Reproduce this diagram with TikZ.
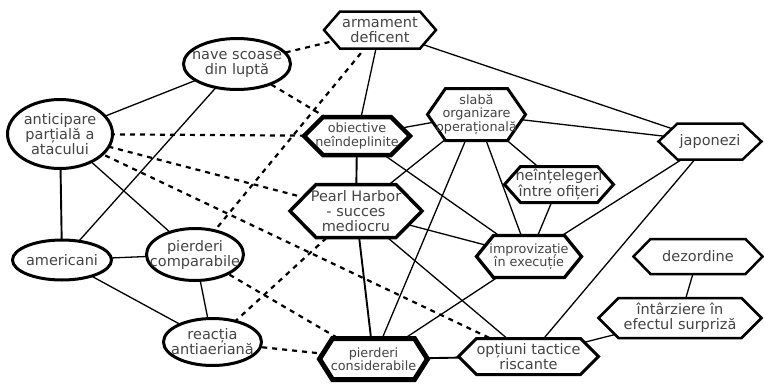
\documentclass[tikz,border=0pt]{standalone}
\usepackage{fontspec}
\setmainfont{DejaVu Sans}
\pgfdeclarelayer{background}
\pgfsetlayers{background,main}
\definecolor{txtgray}{HTML}{444444}
\tikzset{
  lbl/.style={align=center, text=txtgray, inner sep=0pt, font=\fontsize{14.5}{15}\selectfont},
  lbls/.style={align=center, text=txtgray, inner sep=0pt, font=\fontsize{12.8}{13.5}\selectfont},
  rel/.style={line width=1.3pt},
  relthick/.style={line width=1.9pt},
  neg/.style={line width=2.2pt, dash pattern=on 5pt off 5pt},
  ellborder/.style={draw=black, fill=white, line width=3pt},
}
% name, x, y, half width, half height, tip, line width, label style, text
\newcommand{\hexnode}[9]{%
  \draw[fill=white, line width=#7, line join=miter] ({#2-#4},#3) -- ({#2-#4+#6},{#3-#5}) -- ({#2+#4-#6},{#3-#5}) -- ({#2+#4},#3) -- ({#2+#4-#6},{#3+#5}) -- ({#2-#4+#6},{#3+#5}) -- cycle;
  \node[#8] (#1) at (#2,#3) {#9};}
% name, x, y, rx, ry, label style, text
\newcommand{\ellnode}[7]{%
  \draw[ellborder] (#2,#3) ellipse [x radius=#4pt, y radius=#5pt];
  \node[#6] (#1) at (#2,#3) {#7};}
\begin{document}
\begin{tikzpicture}[x=1pt, y=-1pt]
\useasboundingbox (0,0) rectangle (764,386);
% ellipses
\ellnode{nave}{237}{64}{53.5}{25.5}{lbl}{nave scoase\\din luptă}
\ellnode{ant}{60}{134}{52.5}{34.5}{lbl}{anticipare\\parțială a\\atacului}
\ellnode{ame}{62}{260}{49.5}{20}{lbl}{americani}
\ellnode{pcomp}{195}{254.5}{48.5}{26}{lbl}{pierderi\\comparabile}
\ellnode{reac}{212.5}{342}{49}{23.5}{lbl}{reacția\\antiaeriană}
% hexagons
\hexnode{arm}{380}{30}{56}{18.5}{16}{2.5pt}{lbl}{armament\\deficent}
\hexnode{obj}{357}{136}{53}{19}{19}{4.5pt}{lbls}{obiective\\neîndeplinite}
\hexnode{slab}{476.5}{114.5}{49}{26}{18}{3pt}{lbls}{slabă\\organizare\\operațională}
\hexnode{neint}{559}{184.5}{54.5}{18}{16}{3pt}{lbl}{neînțelegeri\\între ofițeri}
\hexnode{jap}{710}{141.5}{51.5}{18}{19}{2.5pt}{lbl}{japonezi}
\hexnode{ph}{356}{211}{66}{26.5}{26}{3.5pt}{lbl}{Pearl Harbor\\- succes\\mediocru}
\hexnode{impr}{529}{256.5}{52.5}{21}{17}{3.3pt}{lbls}{improvizație\\în execuție}
\hexnode{dez}{698}{256.5}{64.5}{17.5}{17}{2.5pt}{lbl}{dezordine}
\hexnode{intz}{680}{318}{81.5}{20}{20}{2.5pt}{lbl}{întârziere în\\efectul surpriză}
\hexnode{pcons}{373.5}{359}{54}{20.5}{13}{5pt}{lbls}{pierderi\\considerabile}
\hexnode{opt}{528.5}{356.5}{70}{18}{18}{3pt}{lbl}{opțiuni tactice\\riscante}
% connectors
\begin{pgfonlayer}{background}
\draw[rel] (ant.center) -- (nave.center);
\draw[relthick] (ant.center) -- (ame.center);
\draw[rel] (ant.center) -- (pcomp.center);
\draw[rel] (nave.center) -- (ame.center);
\draw[rel] (ame.center) -- (pcomp.center);
\draw[rel] (ame.center) -- (reac.center);
\draw[rel] (pcomp.center) -- (reac.center);
\draw[rel] (arm.center) -- (obj.center);
\draw[rel] (arm.center) -- (jap.center);
\draw[rel] (obj.center) -- (slab.center);
\draw[relthick] (obj.center) -- (ph.center);
\draw[rel] (obj.center) -- (impr.center);
\draw[rel] (slab.center) -- (jap.center);
\draw[rel] (slab.center) -- (ph.center);
\draw[rel] (slab.center) -- (pcons.center);
\draw[rel] (slab.center) -- (impr.center);
\draw[rel] (slab.center) -- (neint.center);
\draw[rel] (neint.center) -- (impr.center);
\draw[rel] (impr.center) -- (jap.center);
\draw[rel] (jap.center) -- (opt.center);
\draw[rel] (ph.center) -- (impr.center);
\draw[relthick] (ph.center) -- (pcons.center);
\draw[rel] (ph.center) -- (opt.center);
\draw[rel] (impr.center) -- (pcons.center);
\draw[relthick] (pcons.center) -- (opt.center);
\draw[rel] (opt.center) -- (intz.center);
\draw[rel] (dez.center) -- (intz.center);
% dashed
\draw[neg] (nave.center) -- (arm.center);
\draw[neg] (nave.center) -- (obj.center);
\draw[neg] (ant.center) -- (obj.center);
\draw[neg] (ant.center) -- (ph.center);
\draw[neg] (ant.center) -- (opt.center);
\draw[neg] (arm.center) -- (pcomp.center);
\draw[neg] (ph.center) -- (reac.center);
\draw[neg] (pcomp.center) -- (pcons.center);
\draw[neg] (reac.center) -- (pcons.center);
\end{pgfonlayer}
\end{tikzpicture}
\end{document}
